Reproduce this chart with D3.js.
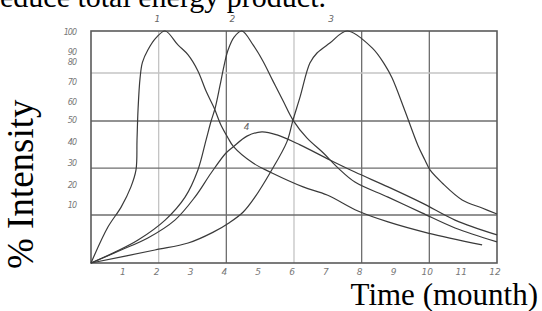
<!DOCTYPE html>
<html><head><meta charset="utf-8">
<script src="https://cdn.jsdelivr.net/npm/d3@7"></script>
<style>
html,body{margin:0;padding:0;background:#fff;overflow:hidden}
svg{display:block}
</style></head>
<body>
<svg id="chart" width="542" height="311"></svg>
<script>
// ---- data (month, % intensity) ----
const curve1 = [[0,0],[0.50,15.5],[0.89,24.1],[1.18,32.8],[1.33,40.1],[1.36,53],[1.39,66],[1.45,79.7],[1.52,86.5],[1.68,91.8],[1.92,97],[2.19,100],[2.57,94],[2.87,89.7],[3.16,82.8],[3.40,74.1],[3.64,66.8],[3.84,59.5],[4.05,53.9],[4.20,50.4],[4.79,43.1],[5.35,38.8],[6.27,32.8],[6.98,29.3],[7.89,22.4],[8.78,17.7],[9.96,12.9],[11.56,7.8]];
const curve2 = [[0,0],[0.71,4.7],[1.39,9.9],[2.19,18.5],[2.78,28.4],[3.16,40.1],[3.40,53],[3.55,61.2],[3.67,66.8],[3.81,76.3],[3.93,84.9],[4.05,91.8],[4.23,97.4],[4.46,100],[4.79,94],[5.08,87.1],[5.38,78.4],[5.68,69.8],[5.97,61.6],[6.38,53.9],[6.86,47.5],[7.30,41],[7.80,34.9],[8.78,28.4],[9.78,21.6],[10.76,15.1],[12,9.1]];
const curve3 = [[0,0],[1.89,5.6],[2.87,8.6],[3.6,13.2],[4.1,17.5],[4.5,22],[4.85,28.5],[5.29,38.8],[5.79,52.2],[5.97,61.6],[6.18,71.6],[6.47,86.2],[6.68,90.5],[7.06,94.8],[7.57,100],[8.31,92.7],[8.69,85.3],[8.90,79.7],[9.28,65.5],[9.67,50.4],[9.87,44.4],[10.02,40.1],[10.38,34.5],[10.97,27.2],[11.56,23.7],[12,21.1]];
const curve4 = [[0,0],[0.89,5.6],[1.68,10.8],[2.48,18.5],[3.07,28.4],[3.55,38.8],[3.99,47.4],[4.20,50],[4.61,54.7],[5.05,56.5],[5.50,55.2],[6.18,50.9],[7.06,44.4],[7.80,39.2],[8.78,32.8],[9.78,25.9],[10.76,18.5],[12,12.1]];
const curveNames = ["1","2","3","4"];
const curveLabelAt = [[1.96,104.8],[4.18,104.8],[7.1,104.8],[4.6,58.2]];
const xTicks = [1,2,3,4,5,6,7,8,9,10,11,12];
const xGrid = [2,4,6,8,10];
const xGridLight = [true,false,true,false,false];
const yGrid = [20.7,40.9,61.2,81.9];
const yGridLight = [false,false,false,true];
const yTickLabels = ["100","90","80","70","60","50","40","30","20","10"];
const yTickAt = [99.6,90.9,86.6,78.0,69.4,61.6,52.2,43.1,33.6,25.0];
const headText = "educe total energy product.";
const xTitle = "Time (mounth)";
const yTitle = "% Intensity";

// ---- drawing ----
const svg = d3.select("#chart");
const L = 91, R = 497, T = 31, B = 263;
const x = d3.scaleLinear().domain([0,12]).range([L,R]);
const y = d3.scaleLinear().domain([0,100]).range([B,T]);

svg.append("rect").attr("width",542).attr("height",311).attr("fill","#fff");

// grid
svg.append("g").selectAll("line").data(xGrid).join("line")
  .attr("x1",d=>x(d)).attr("x2",d=>x(d)).attr("y1",T).attr("y2",B)
  .attr("stroke",(d,i)=>xGridLight[i]?"#c4c4c4":"#6e6e6e").attr("stroke-width",1.3);
svg.append("g").selectAll("line").data(yGrid).join("line")
  .attr("x1",L).attr("x2",R).attr("y1",d=>y(d)).attr("y2",d=>y(d))
  .attr("stroke",(d,i)=>yGridLight[i]?"#c4c4c4":"#6e6e6e").attr("stroke-width",1.3);
svg.append("rect").attr("x",L).attr("y",T).attr("width",R-L).attr("height",B-T)
  .attr("fill","none").attr("stroke","#5a5a5a").attr("stroke-width",1.6);

// curves
const line = d3.line().x(d=>x(d[0])).y(d=>y(d[1])).curve(d3.curveCatmullRom.alpha(0.5));
svg.append("g").selectAll("path").data([curve1,curve2,curve3,curve4]).join("path")
  .attr("d",line).attr("fill","none").attr("stroke","#3a3a3a").attr("stroke-width",1.2);

// curve labels
svg.append("g").selectAll("text").data(curveNames).join("text")
  .attr("x",(d,i)=>x(curveLabelAt[i][0])).attr("y",(d,i)=>y(curveLabelAt[i][1])+2.5)
  .attr("text-anchor","middle").attr("font-family","DejaVu Sans").attr("font-style","italic")
  .attr("font-size",9).attr("fill","#666").text(d=>d);

// x tick labels
svg.append("g").selectAll("text").data(xTicks).join("text")
  .attr("x",d=>x(d)-2).attr("y",275)
  .attr("text-anchor","middle").attr("font-family","DejaVu Sans").attr("font-style","italic")
  .attr("font-size",9).attr("fill","#777").text(d=>d);

// y tick labels
svg.append("g").selectAll("text").data(yTickLabels).join("text")
  .attr("x",76).attr("y",(d,i)=>y(yTickAt[i])+3)
  .attr("text-anchor","end").attr("font-family","DejaVu Sans").attr("font-style","italic")
  .attr("font-size",8).attr("fill","#777").attr("letter-spacing",-1).text(d=>d);

// titles
svg.append("text").attr("x",0).attr("y",6.5).attr("font-family","Liberation Serif")
  .attr("font-size",30).attr("fill","#000").text(headText);
svg.append("text").attr("x",538).attr("y",305).attr("text-anchor","end")
  .attr("font-family","Liberation Serif").attr("font-size",31).attr("fill","#000").text(xTitle);
svg.append("text").attr("transform","translate(33,269) rotate(-90)")
  .attr("font-family","Liberation Serif").attr("font-size",37).attr("fill","#000").text(yTitle);
</script>
</body></html>
